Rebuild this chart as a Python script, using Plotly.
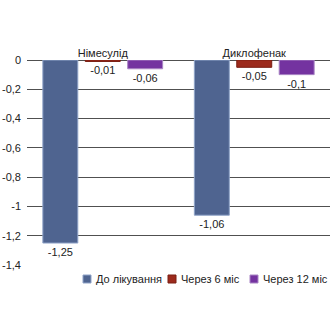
import plotly.graph_objects as go

# Drugs compared and the change in score at each time point
categories = ["Німесулід", "Диклофенак"]
series_names = ["До лікування", "Через 6 міс", "Через 12 міс"]
before = [-1.25, -1.06]
after_6m = [-0.01, -0.05]
after_12m = [-0.06, -0.1]

tick_vals = [0, -0.2, -0.4, -0.6, -0.8, -1, -1.2, -1.4]
tick_text = ["0", "-0,2", "-0,4", "-0,6", "-0,8", "-1", "-1,2", "-1,4"]

fills = ["#4F6490", "#9C2A1C", "#7433A0"]
edges = ["#8FA3C8", "#7A1E12", "#A985C4"]

FONT = "Liberation Sans Narrow, Arial Narrow, Liberation Sans, sans-serif"

W, H = 330, 330
M = dict(l=27, r=0, t=60, b=65)


def fmt(v):
    return ("%g" % v).replace(".", ",")


fig = go.Figure()
for name, vals, fc, ec in zip(series_names, [before, after_6m, after_12m], fills, edges):
    fig.add_trace(go.Bar(
        x=categories, y=vals, name=name,
        marker=dict(color=fc, line=dict(color=ec, width=1)),
        text=[fmt(v) for v in vals], textposition="outside",
        textfont=dict(size=11, color="#222222", family=FONT),
        cliponaxis=False,
    ))

# Legend row below the plot: a swatch plus the series name for each series
plot_w = W - M["l"] - M["r"]
plot_h = H - M["t"] - M["b"]


def px_to_paper_x(px):
    return (px - M["l"]) / plot_w


def px_to_paper_y(py):
    return (H - M["b"] - py) / plot_h


swatch_left = [83, 168, 250]
row_y = 279
for left, name, fc, ec in zip(swatch_left, series_names, fills, edges):
    fig.add_shape(type="rect", xref="paper", yref="paper",
                  x0=px_to_paper_x(left), x1=px_to_paper_x(left + 8),
                  y0=px_to_paper_y(row_y + 4), y1=px_to_paper_y(row_y - 4),
                  fillcolor=fc, line=dict(color=ec, width=1))
    fig.add_annotation(xref="paper", yref="paper",
                       x=px_to_paper_x(left + 11), y=px_to_paper_y(row_y),
                       xanchor="left", yanchor="middle", showarrow=False,
                       text=name, font=dict(size=11, family=FONT, color="#222222"))

fig.update_layout(
    width=W, height=H,
    margin=M,
    paper_bgcolor="white", plot_bgcolor="white",
    barmode="group", bargap=0.16, bargroupgap=0.176,
    font=dict(family=FONT, size=11, color="#222222"),
    showlegend=False,
    xaxis=dict(side="top", showgrid=False, showline=False, ticks="",
               tickfont=dict(size=11, family=FONT)),
    yaxis=dict(range=[-1.4, 0], tickvals=tick_vals, ticktext=tick_text,
               showgrid=True, gridcolor="#505050", gridwidth=1.3,
               zeroline=True, zerolinecolor="#505050", zerolinewidth=1.3,
               showline=False, ticks="", ticklabelstandoff=5,
               tickfont=dict(size=11, family=FONT)),
)

fig.write_html("out.html")
